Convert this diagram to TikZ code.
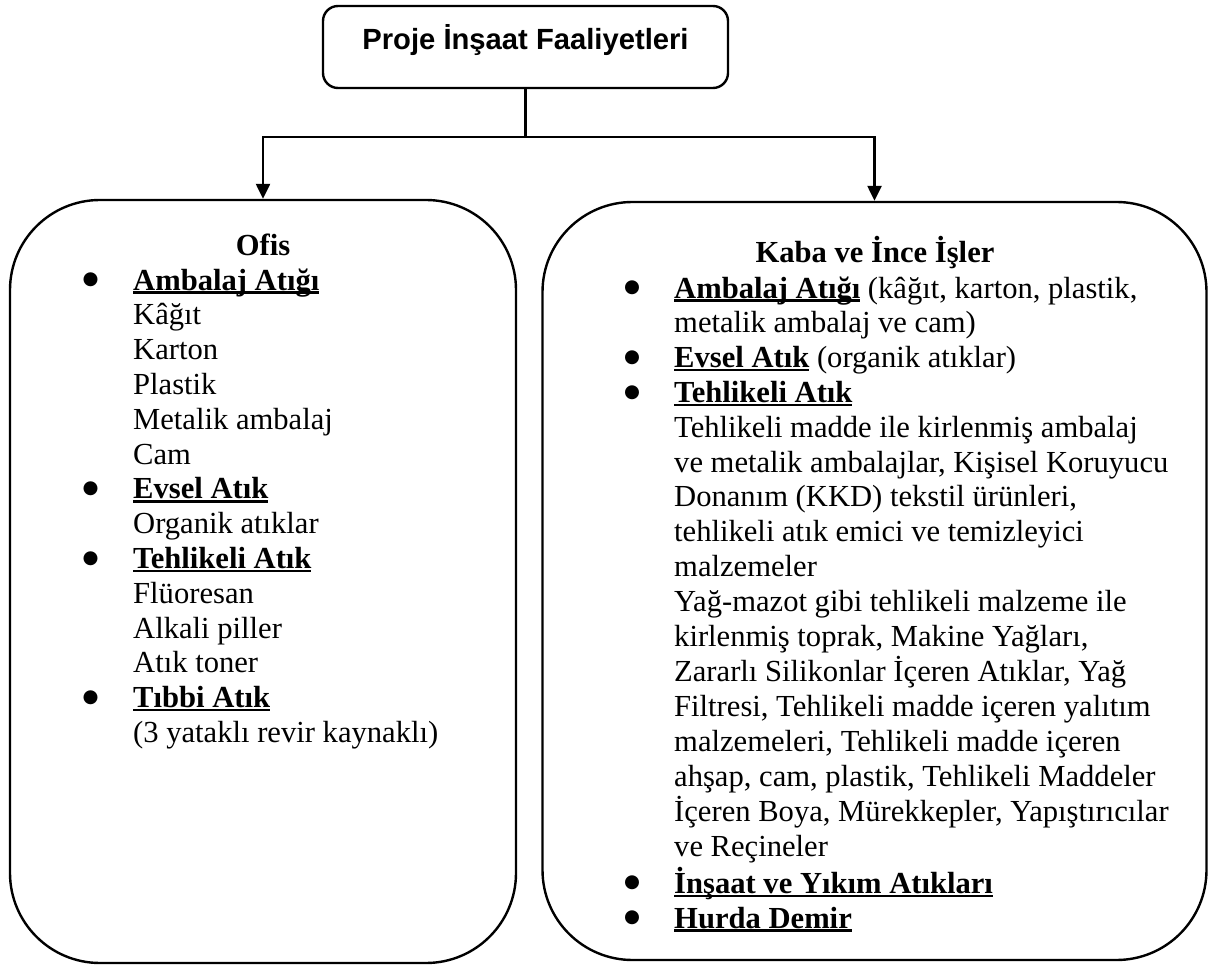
\documentclass[tikz,border=0pt]{standalone}
\usepackage{fontspec}
\setmainfont{Liberation Serif}
\newfontfamily\basliksans{Liberation Sans}
\newfontfamily\isaretfont{DejaVu Sans}
\usetikzlibrary{arrows.meta,positioning}

% underlined bold heading, rule at fixed depth
\newcommand{\atikbaslik}[1]{\textbf{\setbox0\hbox{#1}\rlap{\rule[-3.6pt]{\wd0}{2.4pt}}\box0}}
\newcommand{\madde}{\makebox[0pt]{\raisebox{5.5pt}{\isaretfont\fontsize{18.3}{34.8}\selectfont ●}}}

\tikzset{
  kutu/.style={draw, line width=2.4pt, inner sep=0pt},
  liste/.style={inner sep=0pt, anchor=north west, font=\fontsize{30.6}{34.8}\selectfont},
  baslik/.style={anchor=base, font=\fontsize{30.6}{34.8}\selectfont\bfseries},
  ok/.style={line width=2.4pt, -{Triangle[width=14pt,length=15pt]}}
}

\begin{document}
\begin{tikzpicture}[x=1pt, y=-1pt]
  \useasboundingbox (0,0) rectangle (1208,965);

  % Top box
  \node[kutu, rounded corners=15pt, minimum width=405pt, minimum height=82pt,
        text height=14pt, text depth=8pt, font=\basliksans\bfseries\fontsize{29.2}{30}\selectfont]
        (proje) at (525.5,47) {Proje İnşaat Faaliyetleri};

  % Two boxes
  \node[kutu, rounded corners=90pt, minimum width=506pt, minimum height=763pt] (ofis) at (263,581.5) {};
  \node[kutu, rounded corners=90pt, minimum width=664pt, minimum height=758pt] (kaba) at (874.5,581) {};

  % Connectors
  \coordinate (ayrim) at (525.5,137);
  \draw[line width=2.4pt] (proje.south) -- (ayrim);
  \draw[ok] (ayrim) -| (ofis.north);
  \draw[ok] (ayrim) -| (kaba.north);

  % Ofis
  \node[baslik] (ofisbaslik) at (263,256) {Ofis};
  \node[liste] (ofisliste) at (90.5,265.6) {%
    \begin{tabular}{@{}l@{\hspace{42.5pt}}l@{}}
    \madde & \atikbaslik{Ambalaj Atığı}\\
     & Kâğıt\\
     & Karton\\
     & Plastik\\
     & Metalik ambalaj\\
     & Cam\\
    \madde & \atikbaslik{Evsel Atık}\\
     & Organik atıklar\\
    \madde & \atikbaslik{Tehlikeli Atık}\\
     & Flüoresan\\
     & Alkali piller\\
     & Atık toner\\
    \madde & \atikbaslik{Tıbbi Atık}\\
     & (3 yataklı revir kaynaklı)
    \end{tabular}};

  % Kaba ve Ince Isler
  \node[baslik] (kababaslik) at (875,263) {Kaba ve İnce İşler};
  \node[liste] (kabaliste) at (632,273.6) {%
    \begin{tabular}{@{}l@{\hspace{42pt}}l@{}}
    \madde & \atikbaslik{Ambalaj Atığı} (kâğıt, karton, plastik,\\
     & metalik ambalaj ve cam)\\
    \madde & \atikbaslik{Evsel Atık} (organik atıklar)\\
    \madde & \atikbaslik{Tehlikeli Atık}\\
     & Tehlikeli madde ile kirlenmiş ambalaj\\
     & ve metalik ambalajlar, Kişisel Koruyucu\\
     & Donanım (KKD) tekstil ürünleri,\\
     & tehlikeli atık emici ve temizleyici\\
     & malzemeler\\
     & Yağ-mazot gibi tehlikeli malzeme ile\\
     & kirlenmiş toprak, Makine Yağları,\\
     & Zararlı Silikonlar İçeren Atıklar, Yağ\\
     & Filtresi, Tehlikeli madde içeren yalıtım\\
     & malzemeleri, Tehlikeli madde içeren\\
     & ahşap, cam, plastik, Tehlikeli Maddeler\\
     & İçeren Boya, Mürekkepler, Yapıştırıcılar\\
     & ve Reçineler\\
    \madde & \atikbaslik{İnşaat ve Yıkım Atıkları}\\
    \madde & \atikbaslik{Hurda Demir}
    \end{tabular}};

\end{tikzpicture}
\end{document}
